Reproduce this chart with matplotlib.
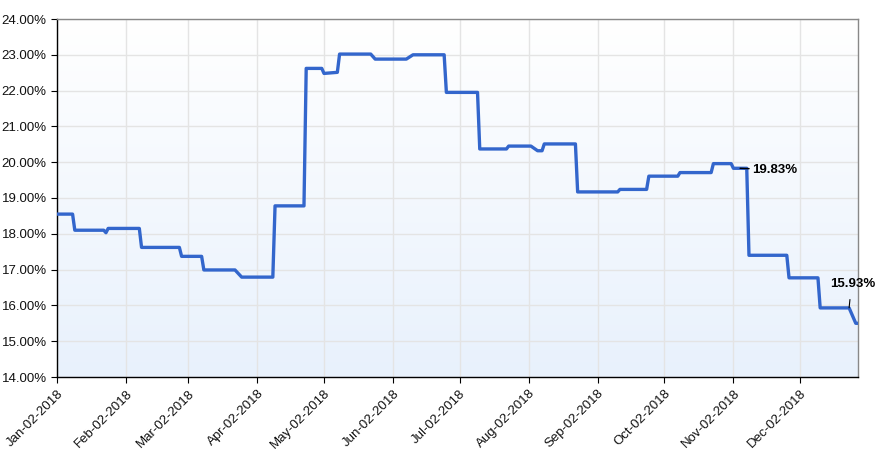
import numpy as np
import pandas as pd
import matplotlib
matplotlib.use("Agg")
import matplotlib.pyplot as plt
import matplotlib.dates as mdates
from matplotlib.ticker import FuncFormatter

plt.rcParams['font.family'] = ['Liberation Sans', 'DejaVu Sans']

# breakpoints of the series (date, value in %)
dates = ["2018-01-02", "2018-01-09", "2018-01-10", "2018-01-23", "2018-01-24", "2018-01-25",
         "2018-02-08", "2018-02-09", "2018-02-26", "2018-02-27", "2018-03-08", "2018-03-09",
         "2018-03-23", "2018-03-26", "2018-04-09", "2018-04-10", "2018-04-23", "2018-04-24",
         "2018-05-01", "2018-05-02", "2018-05-08", "2018-05-09", "2018-05-23", "2018-05-25",
         "2018-06-08", "2018-06-11", "2018-06-25", "2018-06-26", "2018-07-10", "2018-07-11",
         "2018-07-23", "2018-07-24", "2018-08-03", "2018-08-06", "2018-08-08", "2018-08-09",
         "2018-08-23", "2018-08-24", "2018-09-11", "2018-09-12", "2018-09-24", "2018-09-25",
         "2018-10-08", "2018-10-09", "2018-10-23", "2018-10-24", "2018-11-01", "2018-11-02",
         "2018-11-08", "2018-11-09", "2018-11-26", "2018-11-27", "2018-12-10", "2018-12-11",
         "2018-12-24", "2018-12-27", "2018-12-28"]
values = [18.55, 18.55, 18.10, 18.10, 18.03, 18.15,
          18.15, 17.62, 17.62, 17.37, 17.37, 16.99,
          16.99, 16.79, 16.79, 18.78, 18.78, 22.62,
          22.62, 22.48, 22.51, 23.02, 23.02, 22.88,
          22.88, 23.00, 23.00, 21.95, 21.95, 20.37,
          20.37, 20.45, 20.45, 20.32, 20.32, 20.51,
          20.51, 19.17, 19.17, 19.24, 19.24, 19.61,
          19.61, 19.71, 19.71, 19.96, 19.96, 19.83,
          19.83, 17.40, 17.40, 16.77, 16.77, 15.93,
          15.93, 15.50, 15.50]

notes_dates = ["2018-11-05", "2018-12-24"]
notes_values = [19.83, 15.93]
notes_text = ["19.83%", "15.93%"]

tick_dates = pd.date_range("2018-01-01", "2018-12-01", freq="MS") + pd.Timedelta(days=1)

x = pd.to_datetime(dates)

fig = plt.figure(figsize=(8.75, 4.59), dpi=100)
ax = fig.add_axes([57/875, 1 - 377/459, (858-57)/875, (377-19)/459])

ax.set_xlim(x[0], x[-1])
ax.set_ylim(14, 24)

# background gradient: white at top, pale blue at bottom
grad = np.linspace(0, 1, 256).reshape(-1, 1)
top = np.array([1.0, 1.0, 1.0])
bot = np.array([0.91, 0.945, 0.99])
img = top + (bot - top) * grad[:, :, None] * np.ones((1, 1, 3))
ax.imshow(img, extent=[0, 1, 0, 1], transform=ax.transAxes, aspect='auto',
          origin='upper', zorder=0)

ax.grid(True, color='#e4e4e4', linewidth=1, zorder=1)
ax.set_axisbelow(True)

ax.plot(x, values, color='#3366cc', linewidth=2.4, zorder=3, solid_joinstyle='round')

# annotations
nx = pd.to_datetime(notes_dates)
ax.annotate(notes_text[0], xy=(nx[0], notes_values[0]), xytext=(8.5, -1), textcoords='offset points',
            fontsize=9.5, fontweight='bold', va='center', ha='left',
            arrowprops=dict(arrowstyle='-', color='black', lw=1, shrinkA=0, shrinkB=0))
ax.annotate(notes_text[1], xy=(nx[1], notes_values[1]), xytext=(-14, 13), textcoords='offset points',
            fontsize=9.5, fontweight='bold', va='bottom', ha='left',
            arrowprops=dict(arrowstyle='-', color='black', lw=0.8, shrinkA=5, shrinkB=0,
                            relpos=(0.47, 0.0)))

ax.set_xticks(tick_dates)
ax.xaxis.set_major_formatter(mdates.DateFormatter('%b-%d-%Y'))
ax.set_yticks(np.arange(14, 24.01, 1))
ax.yaxis.set_major_formatter(FuncFormatter(lambda v, p: f"{v:.2f}%"))

ax.tick_params(axis='both', direction='out', length=4, color='black', labelsize=9.5, labelcolor='#111111')
plt.setp(ax.get_xticklabels(), rotation=45, ha='right', rotation_mode='anchor')

for s in ['left', 'bottom']:
    ax.spines[s].set_color('black')
    ax.spines[s].set_linewidth(1)
for s in ['top', 'right']:
    ax.spines[s].set_color('#888888')
    ax.spines[s].set_linewidth(1)

fig.savefig("out.png", dpi=100)
